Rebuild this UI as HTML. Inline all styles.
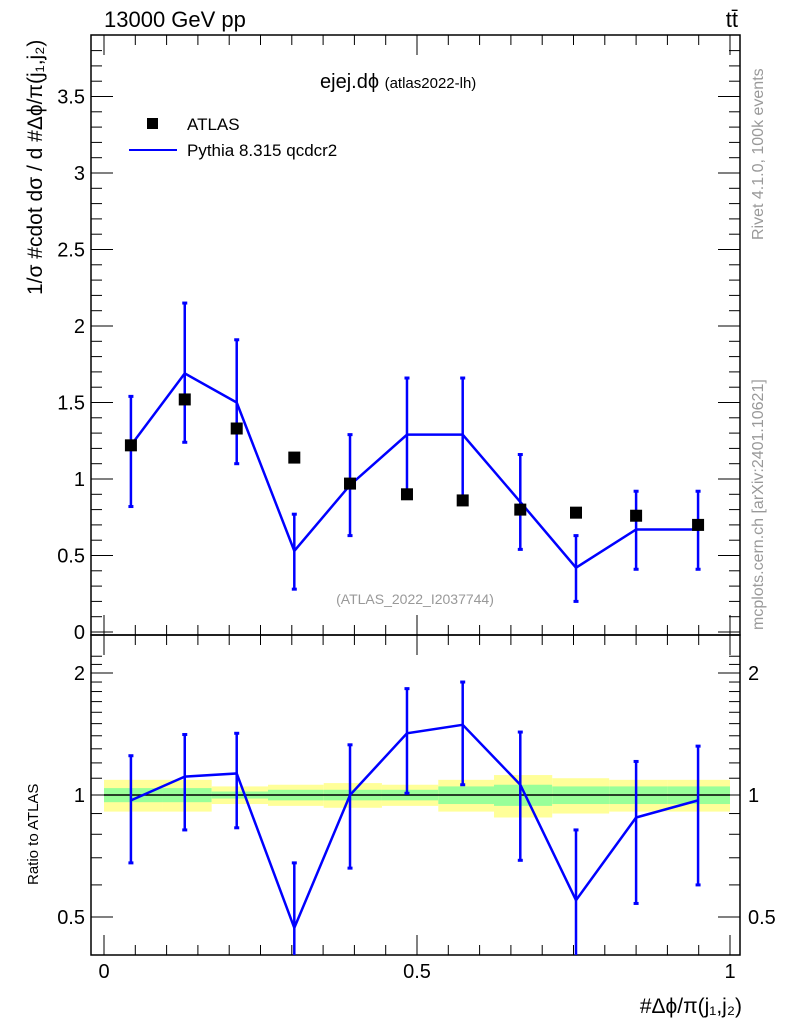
<!DOCTYPE html>
<html><head><meta charset="utf-8"><style>
body{margin:0;background:#fff;}
svg text{font-family:"Liberation Sans",sans-serif;}
</style></head><body>
<svg id="c" width="786" height="1024" xmlns="http://www.w3.org/2000/svg"></svg>
<script>
const xPos=[0.043,0.129,0.212,0.304,0.393,0.484,0.573,0.665,0.754,0.85,0.949];
const dataVals=[1.22,1.52,1.33,1.14,0.97,0.90,0.86,0.80,0.78,0.76,0.70];
const mcVals=[1.22,1.69,1.50,0.53,0.96,1.29,1.29,0.85,0.42,0.67,0.67];
const mcUp=[1.54,2.15,1.91,0.77,1.29,1.66,1.66,1.16,0.63,0.92,0.92];
const mcDn=[0.82,1.24,1.10,0.28,0.63,0.92,0.86,0.54,0.20,0.41,0.41];
const ratioVals=[0.97,1.11,1.13,0.47,1.0,1.42,1.49,1.06,0.55,0.88,0.97];
const ratioUp=[1.25,1.41,1.42,0.68,1.33,1.83,1.90,1.43,0.82,1.21,1.32];
const ratioDn=[0.68,0.82,0.83,0.40,0.66,1.01,1.06,0.69,0.40,0.54,0.60];
const binEdges=[0,0.0927,0.172,0.262,0.351,0.444,0.534,0.623,0.716,0.807,0.9,1.0];
const yellowErr=[0.09,0.09,0.05,0.06,0.07,0.06,0.09,0.12,0.10,0.09,0.09];
const greenErr=[0.04,0.04,0.02,0.03,0.03,0.03,0.05,0.06,0.05,0.05,0.05];
const yTicks=[0,0.5,1,1.5,2,2.5,3,3.5];
const yTickLabels=["0","0.5","1","1.5","2","2.5","3","3.5"];
const rTicks=[0.5,1,2];
const xTicks=[0,0.5,1];

const S=document.getElementById('c');const NS='http://www.w3.org/2000/svg';
function el(t,a,txt){const e=document.createElementNS(NS,t);for(const k in a)e.setAttribute(k,a[k]);if(txt!==undefined)e.textContent=txt;S.appendChild(e);return e;}
const L=91,R=740,T=35,MB=635,RB=955;
const X=v=>104+626*v;
const Y=v=>632-153*v;
const YR=r=>795-122*Math.log2(r);

// bands
for(let i=0;i<binEdges.length-1;i++){
 let b=el('rect',{x:X(binEdges[i]),y:YR(1+yellowErr[i]),width:X(binEdges[i+1])-X(binEdges[i]),height:YR(1-yellowErr[i])-YR(1+yellowErr[i]),fill:'#ffff99'});
 
 
 let g=el('rect',{x:X(binEdges[i]),y:YR(1+greenErr[i]),width:X(binEdges[i+1])-X(binEdges[i]),height:YR(1-greenErr[i])-YR(1+greenErr[i]),fill:'#99ff99'});
 
 
}
el('line',{x1:X(0),x2:X(1),y1:YR(1),y2:YR(1),stroke:'#000','stroke-width':1.5});

// frames
let f1=el('rect',{x:L,y:T,width:R-L,height:MB-T,fill:'none',stroke:'#000','stroke-width':1.5});

let f2=el('rect',{x:L,y:MB,width:R-L,height:RB-MB,fill:'none',stroke:'#000','stroke-width':1.5});


// main y ticks
for(let v=0;v<=3.86;v+=0.1){const y=Y(v);if(y<T)break;const maj=Math.abs(v*2-Math.round(v*2))<1e-6;
 el('line',{x1:L,x2:L+(maj?22:11),y1:y,y2:y,stroke:'#000'});el('line',{x1:R,x2:R-(maj?22:11),y1:y,y2:y,stroke:'#000'});}
yTicks.forEach((v,i)=>{let t=el('text',{x:L-6,y:Y(v)+7,'text-anchor':'end','font-size':20},yTickLabels[i]);});
// ratio ticks
for(let v=0.4;v<=2.3;v+=0.1){const y=YR(v);if(y<MB||y>RB)continue;const maj=rTicks.some(r=>Math.abs(r-v)<1e-6);
 el('line',{x1:L,x2:L+(maj?22:11),y1:y,y2:y,stroke:'#000'});el('line',{x1:R,x2:R-(maj?22:11),y1:y,y2:y,stroke:'#000'});}
rTicks.forEach(v=>{let a=el('text',{x:L-6,y:YR(v)+7,'text-anchor':'end','font-size':20},String(v));
 let b=el('text',{x:R+8,y:YR(v)+7,'font-size':20},String(v));});
// x ticks
for(let v=0;v<=1.0001;v+=0.05){const maj=Math.abs(v*10-Math.round(v*10))<1e-6&&Math.round(v*10)%5==0;const x=X(v);
 el('line',{x1:x,x2:x,y1:T,y2:T+(maj?20:10),stroke:'#000'});el('line',{x1:x,x2:x,y1:MB,y2:MB-(maj?20:10),stroke:'#000'});
 el('line',{x1:x,x2:x,y1:MB,y2:MB+(maj?20:10),stroke:'#000'});el('line',{x1:x,x2:x,y1:RB,y2:RB-(maj?20:10),stroke:'#000'});}
xTicks.forEach(v=>{let t=el('text',{x:X(v),y:978,'text-anchor':'middle','font-size':20},String(v));});

// MC main
let p=el('polyline',{points:xPos.map((x,i)=>X(x)+','+Y(mcVals[i])).join(' '),fill:'none',stroke:'#0000ff','stroke-width':2.5});

xPos.forEach((x,i)=>{let e=el('line',{x1:X(x),x2:X(x),y1:Y(mcUp[i]),y2:Y(mcDn[i]),stroke:'#0000ff','stroke-width':2.5});
 
 el('rect',{x:X(x)-2.5,y:Y(mcUp[i])-1.5,width:5,height:3,fill:'#0000ff'});el('rect',{x:X(x)-2.5,y:Y(mcDn[i])-1.5,width:5,height:3,fill:'#0000ff'});});
xPos.forEach((x,i)=>{let m=el('rect',{x:X(x)-6,y:Y(dataVals[i])-6,width:12,height:12,fill:'#000'});
 });
// ratio
const clipR=v=>Math.min(RB,Math.max(MB,v));
let rp=el('polyline',{points:xPos.map((x,i)=>X(x)+','+YR(ratioVals[i])).join(' '),fill:'none',stroke:'#0000ff','stroke-width':2.5,'clip-path':'url(#rc)'});

let cp=el('clipPath',{id:'rc'});const cr=document.createElementNS(NS,'rect');cr.setAttribute('x',L);cr.setAttribute('y',MB);cr.setAttribute('width',R-L);cr.setAttribute('height',RB-MB);cp.appendChild(cr);
xPos.forEach((x,i)=>{let e=el('line',{x1:X(x),x2:X(x),y1:clipR(YR(ratioUp[i])),y2:clipR(YR(ratioDn[i])),stroke:'#0000ff','stroke-width':2.5});
 
 if(YR(ratioUp[i])>MB)el('rect',{x:X(x)-2.5,y:YR(ratioUp[i])-1.5,width:5,height:3,fill:'#0000ff'});
 if(YR(ratioDn[i])<RB)el('rect',{x:X(x)-2.5,y:YR(ratioDn[i])-1.5,width:5,height:3,fill:'#0000ff'});});

// texts
function txt(a,s,name){let t=el('text',a,s);return t;}
txt({x:104,y:27,'font-size':22},'13000 GeV pp','energy-label');
txt({x:738,y:27,'font-size':22,'text-anchor':'end'},'tt̄','process-label');
let ti=txt({x:320,y:88,'font-size':20},'ejej.dϕ ','plot-title');const ts=document.createElementNS(NS,'tspan');ts.setAttribute('font-size','15');ts.textContent='(atlas2022-lh)';ti.appendChild(ts);
el('rect',{x:147,y:118,width:11,height:11,fill:'#000'});
txt({x:187,y:130,'font-size':17},'ATLAS','legend-atlas');
el('line',{x1:129,x2:177,y1:150,y2:150,stroke:'#0000ff','stroke-width':2});
txt({x:187,y:156,'font-size':17},'Pythia 8.315 qcdcr2','legend-pythia');
txt({x:415,y:604,'font-size':14,fill:'#999','text-anchor':'middle'},'(ATLAS_2022_I2037744)','analysis-id');
txt({x:0,y:0,'font-size':16,fill:'#999',transform:'translate(763,240) rotate(-90)'},'Rivet 4.1.0,  100k events','rivet-label');
txt({x:0,y:0,'font-size':16,fill:'#999',transform:'translate(763,630) rotate(-90)'},'mcplots.cern.ch [arXiv:2401.10621]','mcplots-label');
txt({x:0,y:0,'font-size':21,transform:'translate(42,295) rotate(-90)'},'1/σ #cdot dσ / d #Δϕ/π(j₁,j₂)','y-axis-title');
txt({x:0,y:0,'font-size':15,transform:'translate(38,885) rotate(-90)'},'Ratio to ATLAS','ratio-axis-title');
txt({x:742,y:1013,'font-size':21,'text-anchor':'end'},'#Δϕ/π(j₁,j₂)','x-axis-title');
</script>
</body></html>
